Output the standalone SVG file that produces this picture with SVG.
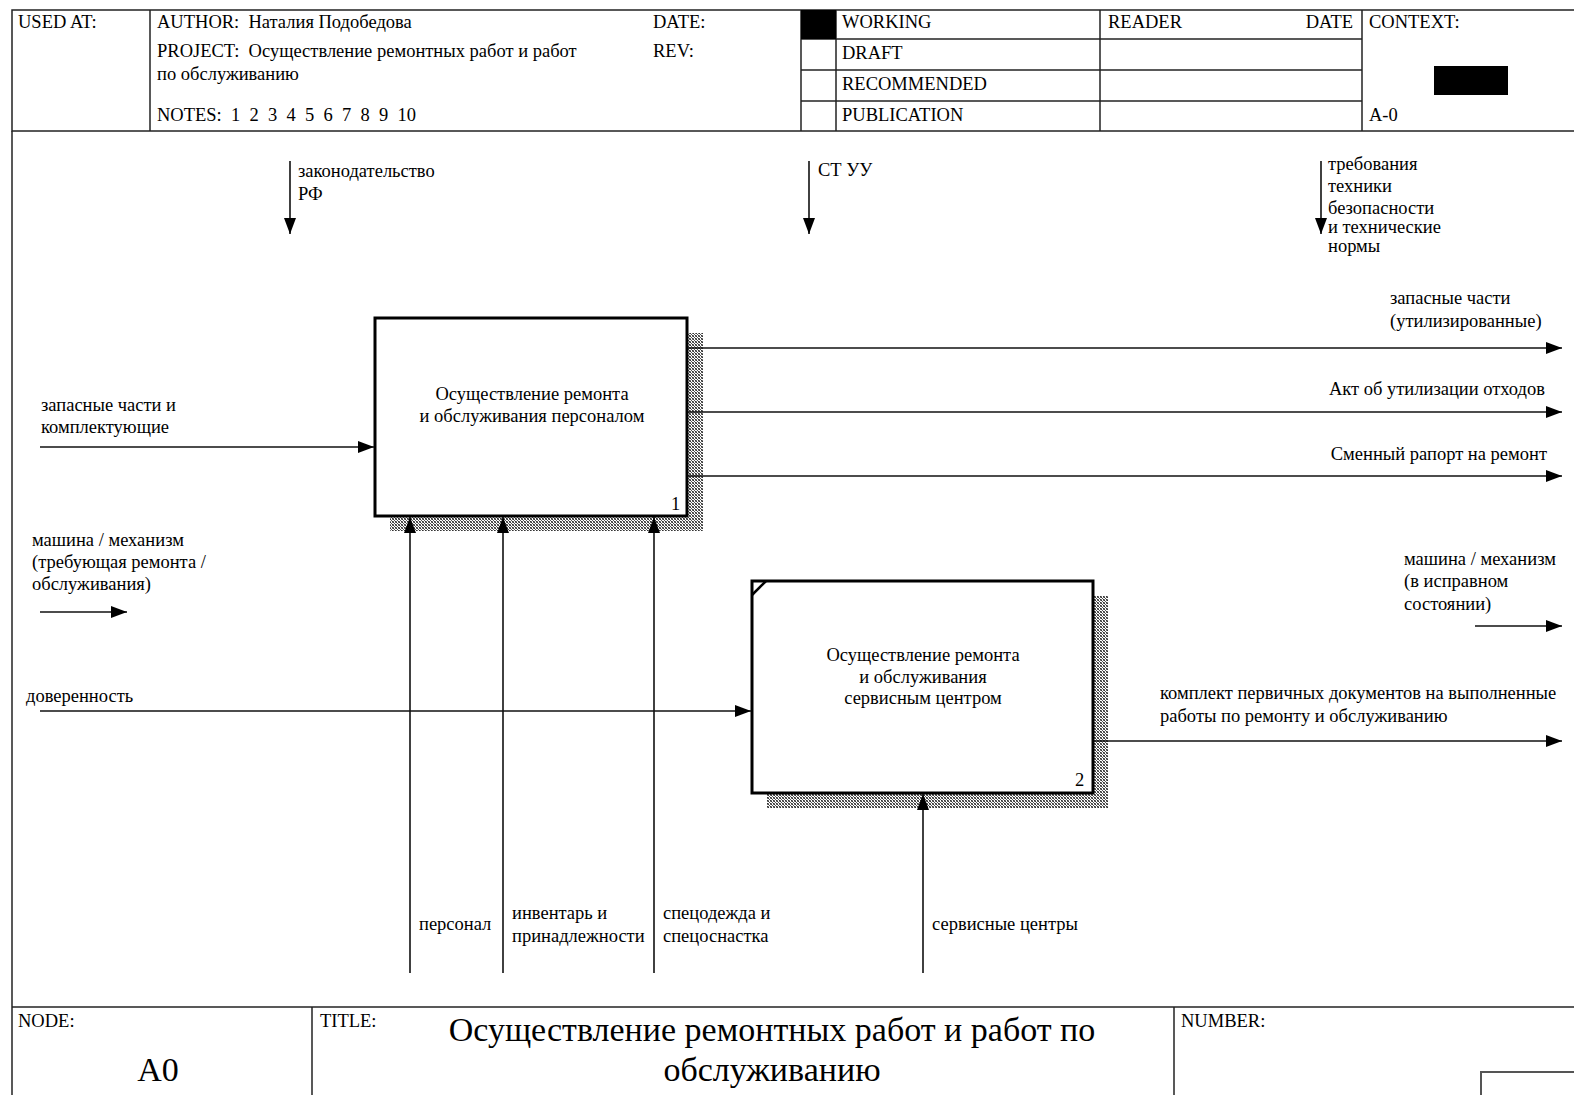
<svg xmlns="http://www.w3.org/2000/svg" width="1574" height="1095" viewBox="0 0 1574 1095">
<defs>
<style>
text{font-family:"Liberation Serif","Times New Roman",serif;font-size:18.5px;fill:#000;white-space:pre}
.frame{fill:none;stroke:#222;stroke-width:1.5}
.box{fill:#fff;stroke:#000;stroke-width:3}
.shadow{fill:url(#hatch);stroke:none}
.conn{fill:none;stroke:#111;stroke-width:1.6}
.big{font-size:34px}
.mid{text-anchor:middle}
.end{text-anchor:end}
</style>
<pattern id="hatch" width="3" height="3" patternUnits="userSpaceOnUse">
<rect width="3" height="3" fill="#fff"/>
<rect x="0" y="0" width="1" height="1" fill="#333"/>
<rect x="1" y="1" width="1" height="1" fill="#555"/>
<rect x="2" y="2" width="1" height="1" fill="#333"/>
<rect x="2" y="0" width="1" height="1" fill="#777"/>
<rect x="0" y="2" width="1" height="1" fill="#777"/>
</pattern>
<marker id="arr" markerUnits="userSpaceOnUse" markerWidth="18" markerHeight="14" refX="16" refY="6" orient="auto">
<path d="M0,0 L16,6 L0,12 Z" fill="#000"/>
</marker>
</defs>
<rect width="1574" height="1095" fill="#fff"/>

<g id="header">
<rect class="frame" x="12" y="10" width="1570" height="121"/>
<line class="frame" x1="150" y1="10" x2="150" y2="131"/>
<line class="frame" x1="801" y1="10" x2="801" y2="131"/>
<line class="frame" x1="836" y1="10" x2="836" y2="131"/>
<line class="frame" x1="1100" y1="10" x2="1100" y2="131"/>
<line class="frame" x1="1362" y1="10" x2="1362" y2="131"/>
<line class="frame" x1="801" y1="39" x2="1362" y2="39"/>
<line class="frame" x1="801" y1="70" x2="1362" y2="70"/>
<line class="frame" x1="801" y1="101" x2="1362" y2="101"/>
<rect x="801" y="10" width="35" height="29" fill="#000"/>
<rect x="1434" y="66" width="74" height="29" fill="#000"/>
<text x="18" y="28">USED AT:</text>
<text x="157" y="28">AUTHOR:  Наталия Подобедова</text>
<text x="157" y="57">PROJECT:  Осуществление ремонтных работ и работ</text>
<text x="157" y="80">по обслуживанию</text>
<text x="157" y="121">NOTES:  1  2  3  4  5  6  7  8  9  10</text>
<text x="653" y="28">DATE:</text>
<text x="653" y="57">REV:</text>
<text x="842" y="28">WORKING</text>
<text x="842" y="59">DRAFT</text>
<text x="842" y="90">RECOMMENDED</text>
<text x="842" y="121">PUBLICATION</text>
<text x="1108" y="28">READER</text>
<text class="end" x="1353" y="28">DATE</text>
<text x="1369" y="28">CONTEXT:</text>
<text x="1369" y="121">A-0</text>
</g>

<g id="body-frame">
<line class="frame" x1="12" y1="131" x2="12" y2="1095"/>
<line class="frame" x1="12" y1="1007" x2="1574" y2="1007"/>
</g>

<g id="node1">
<rect class="shadow" x="390" y="333" width="313" height="198"/>
<rect class="box" x="375" y="318" width="312" height="198"/>
<text class="mid" x="532" y="400">Осуществление ремонта</text>
<text class="mid" x="532" y="422">и обслуживания персоналом</text>
<text x="671" y="510">1</text>
</g>

<g id="node2">
<rect class="shadow" x="767" y="596" width="341" height="212"/>
<rect class="box" x="752" y="581" width="341" height="212"/>
<line x1="752" y1="595" x2="766" y2="581" stroke="#000" stroke-width="2.5"/>
<text class="mid" x="923" y="661">Осуществление ремонта</text>
<text class="mid" x="923" y="683">и обслуживания</text>
<text class="mid" x="923" y="704">сервисным центром</text>
<text x="1075" y="786">2</text>
</g>

<g id="connectors">
<line class="conn" x1="290" y1="161" x2="290" y2="234" marker-end="url(#arr)"/>
<line class="conn" x1="809" y1="161" x2="809" y2="234" marker-end="url(#arr)"/>
<line class="conn" x1="1321" y1="161" x2="1321" y2="234" marker-end="url(#arr)"/>
<line class="conn" x1="40" y1="447" x2="374" y2="447" marker-end="url(#arr)"/>
<line class="conn" x1="40" y1="612" x2="127" y2="612" marker-end="url(#arr)"/>
<line class="conn" x1="40" y1="711" x2="751" y2="711" marker-end="url(#arr)"/>
<line class="conn" x1="688" y1="348" x2="1562" y2="348" marker-end="url(#arr)"/>
<line class="conn" x1="688" y1="412" x2="1562" y2="412" marker-end="url(#arr)"/>
<line class="conn" x1="688" y1="476" x2="1562" y2="476" marker-end="url(#arr)"/>
<line class="conn" x1="1475" y1="626" x2="1562" y2="626" marker-end="url(#arr)"/>
<line class="conn" x1="1094" y1="741" x2="1562" y2="741" marker-end="url(#arr)"/>
<line class="conn" x1="410" y1="973" x2="410" y2="517" marker-end="url(#arr)"/>
<line class="conn" x1="503" y1="973" x2="503" y2="517" marker-end="url(#arr)"/>
<line class="conn" x1="654" y1="973" x2="654" y2="517" marker-end="url(#arr)"/>
<line class="conn" x1="923" y1="973" x2="923" y2="794" marker-end="url(#arr)"/>
</g>

<g id="labels">
<text x="298" y="177">законодательство</text>
<text x="298" y="200">РФ</text>
<text x="818" y="176">СТ УУ</text>
<text x="1328" y="170">требования</text>
<text x="1328" y="192">техники</text>
<text x="1328" y="214">безопасности</text>
<text x="1328" y="233">и технические</text>
<text x="1328" y="252">нормы</text>
<text x="41" y="411">запасные части и</text>
<text x="41" y="433">комплектующие</text>
<text x="32" y="546">машина / механизм</text>
<text x="32" y="568">(требующая ремонта /</text>
<text x="32" y="590">обслуживания)</text>
<text x="26" y="702">доверенность</text>
<text x="1390" y="304">запасные части</text>
<text x="1390" y="327">(утилизированные)</text>
<text class="end" x="1545" y="395">Акт об утилизации отходов</text>
<text class="end" x="1547" y="460">Сменный рапорт на ремонт</text>
<text x="1404" y="565">машина / механизм</text>
<text x="1404" y="587">(в исправном</text>
<text x="1404" y="610">состоянии)</text>
<text x="1160" y="699">комплект первичных документов на выполненные</text>
<text x="1160" y="722">работы по ремонту и обслуживанию</text>
<text x="419" y="930">персонал</text>
<text x="512" y="919">инвентарь и</text>
<text x="512" y="942">принадлежности</text>
<text x="663" y="919">спецодежда и</text>
<text x="663" y="942">спецоснастка</text>
<text x="932" y="930">сервисные центры</text>
</g>

<g id="footer">
<line class="frame" x1="312" y1="1007" x2="312" y2="1095"/>
<line class="frame" x1="1174" y1="1007" x2="1174" y2="1095"/>
<text x="18" y="1027">NODE:</text>
<text x="320" y="1027">TITLE:</text>
<text x="1181" y="1027">NUMBER:</text>
<text class="big mid" x="158" y="1081">A0</text>
<text class="big mid" x="772" y="1041">Осуществление ремонтных работ и работ по</text>
<text class="big mid" x="772" y="1081">обслуживанию</text>
<path d="M1481,1095 V1072 H1574" fill="none" stroke="#555" stroke-width="2"/>
</g>
</svg>
